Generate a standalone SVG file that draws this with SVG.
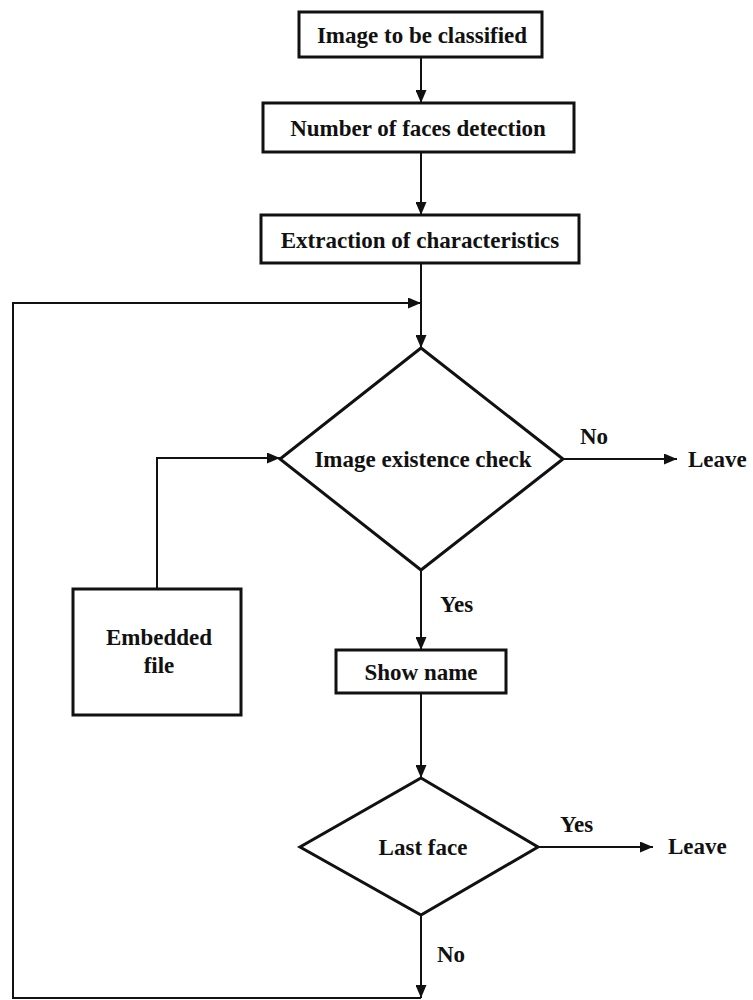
<svg xmlns="http://www.w3.org/2000/svg" width="753" height="1000" viewBox="0 0 753 1000">
  <style>
    .box { fill: #fff; stroke: #111; stroke-width: 3; }
    .dia { fill: #fff; stroke: #111; stroke-width: 3; stroke-linejoin: miter; }
    .wire { fill: none; stroke: #111; stroke-width: 2; }
    text { font-family: "Liberation Serif", "Times New Roman", serif; font-weight: bold; fill: #111; font-size: 23px; }
    .c { text-anchor: middle; }
  </style>
  <defs>
    <marker id="arrow" viewBox="0 0 13 11" refX="13" refY="5.5" markerWidth="13" markerHeight="11" markerUnits="userSpaceOnUse" orient="auto">
      <path d="M0,0 L13,5.5 L0,11 Z" fill="#111"/>
    </marker>
  </defs>
  <rect width="753" height="1000" fill="#fff"/>

  <g id="connectors">
    <line class="wire" x1="421" y1="57" x2="421" y2="103" marker-end="url(#arrow)"/>
    <line class="wire" x1="421" y1="152" x2="421" y2="215" marker-end="url(#arrow)"/>
    <line class="wire" x1="421" y1="263" x2="421" y2="348" marker-end="url(#arrow)"/>
    <!-- return loop from the last-face check -->
    <polyline class="wire" points="421,998 13,998 13,303 421,303" marker-end="url(#arrow)"/>
    <!-- embedded file into the existence check -->
    <polyline class="wire" points="157,589 157,458 280,458" marker-end="url(#arrow)"/>
    <line class="wire" x1="563" y1="459" x2="677" y2="459" marker-end="url(#arrow)"/>
    <line class="wire" x1="421" y1="570" x2="421" y2="650" marker-end="url(#arrow)"/>
    <line class="wire" x1="421" y1="693" x2="421" y2="778" marker-end="url(#arrow)"/>
    <line class="wire" x1="538" y1="847" x2="653" y2="847" marker-end="url(#arrow)"/>
    <line class="wire" x1="421" y1="915" x2="421" y2="998" marker-end="url(#arrow)"/>
  </g>

  <g id="image-to-classify">
    <rect class="box" x="299" y="12" width="243" height="45"/>
    <text class="c" x="422" y="43">Image to be classified</text>
  </g>

  <g id="face-count">
    <rect class="box" x="263" y="103" width="311" height="49"/>
    <text class="c" x="418" y="136">Number of faces detection</text>
  </g>

  <g id="feature-extraction">
    <rect class="box" x="261" y="215" width="318" height="48"/>
    <text class="c" x="420" y="248">Extraction of characteristics</text>
  </g>

  <g id="existence-check">
    <polygon class="dia" points="421,348 563,459 421,570 280,459"/>
    <text class="c" x="423" y="467">Image existence check</text>
  </g>

  <g id="leave-1">
    <text x="580" y="444">No</text>
    <text x="688" y="467">Leave</text>
  </g>

  <g id="embedded-file">
    <rect class="box" x="73" y="589" width="168" height="126"/>
    <text class="c" x="159" y="645">Embedded</text>
    <text class="c" x="159" y="673">file</text>
  </g>

  <g id="show-name">
    <text x="440" y="612">Yes</text>
    <rect class="box" x="336" y="650" width="170" height="43"/>
    <text class="c" x="421" y="680">Show name</text>
  </g>

  <g id="last-face">
    <polygon class="dia" points="421,778 538,847 421,915 300,847"/>
    <text class="c" x="423" y="855">Last face</text>
  </g>

  <g id="leave-2">
    <text x="560" y="832">Yes</text>
    <text x="668" y="854">Leave</text>
    <text x="437" y="962">No</text>
  </g>
</svg>
